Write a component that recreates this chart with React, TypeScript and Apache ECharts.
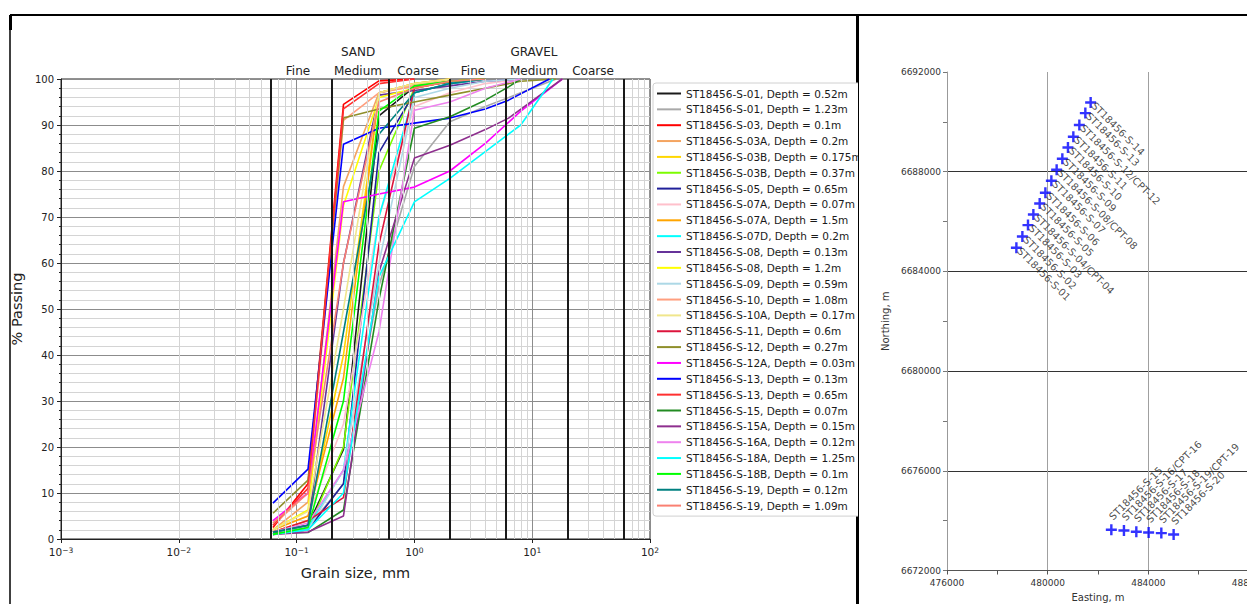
import React, { useEffect, useRef } from "react";
import * as echarts from "echarts";

const FONT = "DejaVu Sans";

// ---------- Particle size distribution data ----------
const sampleNames = [
  "ST18456-S-01, Depth = 0.52m",
  "ST18456-S-01, Depth = 1.23m",
  "ST18456-S-03, Depth = 0.1m",
  "ST18456-S-03A, Depth = 0.2m",
  "ST18456-S-03B, Depth = 0.175m",
  "ST18456-S-03B, Depth = 0.37m",
  "ST18456-S-05, Depth = 0.65m",
  "ST18456-S-07A, Depth = 0.07m",
  "ST18456-S-07A, Depth = 1.5m",
  "ST18456-S-07D, Depth = 0.2m",
  "ST18456-S-08, Depth = 0.13m",
  "ST18456-S-08, Depth = 1.2m",
  "ST18456-S-09, Depth = 0.59m",
  "ST18456-S-10, Depth = 1.08m",
  "ST18456-S-10A, Depth = 0.17m",
  "ST18456-S-11, Depth = 0.6m",
  "ST18456-S-12, Depth = 0.27m",
  "ST18456-S-12A, Depth = 0.03m",
  "ST18456-S-13, Depth = 0.13m",
  "ST18456-S-13, Depth = 0.65m",
  "ST18456-S-15, Depth = 0.07m",
  "ST18456-S-15A, Depth = 0.15m",
  "ST18456-S-16A, Depth = 0.12m",
  "ST18456-S-18A, Depth = 1.25m",
  "ST18456-S-18B, Depth = 0.1m",
  "ST18456-S-19, Depth = 0.12m",
  "ST18456-S-19, Depth = 1.09m",
];

const sampleColors = [
  "#1a1a1a", "#a9a9a9", "#ff0000", "#f4a460", "#ffd700", "#7cfc00", "#20209a",
  "#ffc0cb", "#ffa500", "#00ffff", "#663399", "#ffff00", "#add8e6", "#ff9f7f",
  "#f0e68c", "#dc143c", "#8f8f2a", "#ff00ff", "#0000ff", "#ff3030", "#228b22",
  "#8e2f8e", "#ee82ee", "#00ffff", "#00ff00", "#008080", "#fa8072",
];

// sieve sizes (mm) for each sample
const sampleSizes: number[][] = [
  [0.063, 0.125, 0.25, 0.5, 1, 2, 4],
  [0.063, 0.125, 0.25, 0.5, 1, 2, 4, 8, 16],
  [0.063, 0.125, 0.25, 0.5, 1],
  [0.063, 0.125, 0.25, 0.5, 1, 2, 4],
  [0.063, 0.125, 0.25, 0.5, 1, 2],
  [0.063, 0.125, 0.25, 0.5, 1, 2, 4],
  [0.063, 0.125, 0.25, 0.5, 1, 2, 4],
  [0.063, 0.125, 0.25, 0.5, 1, 2, 4, 8],
  [0.063, 0.125, 0.25, 0.5, 1, 2],
  [0.063, 0.125, 0.25, 0.5, 1, 2, 4],
  [0.063, 0.125, 0.25, 0.5, 1, 2, 4, 8],
  [0.063, 0.125, 0.25, 0.5, 1, 2, 4],
  [0.063, 0.125, 0.25, 0.5, 1, 2, 4, 8],
  [0.063, 0.125, 0.25, 0.5, 1, 2, 4],
  [0.063, 0.125, 0.25, 0.5, 1, 2],
  [0.063, 0.125, 0.25, 0.5, 1, 2, 4],
  [0.063, 0.125, 0.25, 0.5, 1, 2, 4, 8, 16],
  [0.063, 0.125, 0.25, 0.5, 1, 2, 4, 8, 18],
  [0.063, 0.125, 0.25, 0.5, 1, 2, 4, 6.3, 14],
  [0.063, 0.125, 0.25, 0.5, 1],
  [0.063, 0.125, 0.25, 0.5, 1, 2, 4, 6.3, 8],
  [0.063, 0.125, 0.25, 0.5, 1, 2, 4, 6.3, 18],
  [0.063, 0.125, 0.25, 0.5, 1, 2, 4, 8],
  [0.063, 0.125, 0.25, 0.5, 1, 2, 8, 15],
  [0.063, 0.125, 0.25, 0.5, 1, 2, 4],
  [0.063, 0.125, 0.25, 0.5, 1, 2, 4],
  [0.063, 0.125, 0.25, 0.5, 1, 2, 4],
];

// % passing for each sample
const samplePassing: number[][] = [
  [1.5, 3, 19.5, 92, 98.3, 99.3, 100],
  [1.5, 2.5, 12, 55, 81, 90.7, 94, 97, 100],
  [2.5, 12, 94.5, 99.6, 100],
  [2, 8, 76.6, 97, 98.5, 99.5, 100],
  [1.5, 4, 40, 97, 99, 100],
  [1, 2, 20, 80, 98, 99.5, 100],
  [1, 2, 12, 84, 97, 99, 100],
  [2, 5, 25, 70, 94, 97, 99, 100],
  [2, 5, 35, 97, 99, 100],
  [1, 2.5, 15, 70, 97, 99, 100],
  [1.5, 3, 60, 96.5, 97.5, 98.5, 99.5, 100],
  [2, 6.3, 72.5, 96, 98, 99.5, 100],
  [1, 2, 15, 60, 96, 98, 99.5, 100],
  [3, 10, 91, 97, 98.5, 99.5, 100],
  [2, 6, 50, 97, 99, 100],
  [1.5, 4, 9, 64, 98, 99.5, 100],
  [5.6, 12.8, 91.5, 93.5, 95, 96.5, 98, 99.5, 100],
  [4, 10, 73.3, 75, 76.5, 80, 86, 93, 100],
  [7.8, 15.2, 85.8, 89.3, 90.4, 91.5, 93.5, 95.4, 100],
  [3, 11, 93.5, 99, 100],
  [1.3, 1.4, 6.3, 52, 89.3, 91.8, 95.4, 98.3, 100],
  [1, 1.5, 5, 58, 82.8, 85.6, 89, 91.5, 100],
  [1.5, 3.5, 15, 45, 93.2, 95, 98, 100],
  [1, 2, 10, 57, 73.3, 78.4, 90, 100],
  [1, 2.5, 30, 93, 98.5, 99.5, 100],
  [1.5, 3, 45, 88, 97, 99, 100],
  [3.5, 10, 60, 95, 98, 99.5, 100],
];

// soil class boundaries (mm) and headings
const classBoundaries = [0.063, 0.2, 0.6, 2, 6, 20, 60];
const minorGridSizes = [
  0.002, 0.003, 0.004, 0.005, 0.006, 0.007, 0.008, 0.009,
  0.02, 0.03, 0.04, 0.05, 0.06, 0.07, 0.08, 0.09,
  0.2, 0.3, 0.4, 0.5, 0.6, 0.7, 0.8, 0.9,
  2, 3, 4, 5, 6, 7, 8, 9,
  20, 30, 40, 50, 60, 70, 80, 90,
];
const groupHeadings = ["SAND", "GRAVEL"];
const subHeadings = ["Fine", "Medium", "Coarse", "Fine", "Medium", "Coarse"];

// ---------- Site location data ----------
const northNames = [
  "ST18456-S-01", "ST18456-S-02", "ST18456-S-03", "ST18456-S-04/CPT-04",
  "ST18456-S-05", "ST18456-S-06", "ST18456-S-07", "ST18456-S-08/CPT-08",
  "ST18456-S-09", "ST18456-S-10", "ST18456-S-11", "ST18456-S-12/CPT-12",
  "ST18456-S-13", "ST18456-S-14",
];
const northEasting = [
  478757, 478995, 479218, 479432, 479683, 479909, 480147, 480357, 480583,
  480806, 481020, 481259, 481497, 481708,
];
const northNorthing = [
  6684947, 6685400, 6685858, 6686283, 6686724, 6687153, 6687635, 6688076,
  6688517, 6688971, 6689400, 6689871, 6690351, 6690776,
];
const southNames = [
  "ST18456-S-15", "ST18456-S-16/CPT-16", "ST18456-S-17", "ST18456-S-18",
  "ST18456-S-19/CPT-19", "ST18456-S-20",
];
const southEasting = [482530, 483031, 483523, 484012, 484516, 485005];
const southNorthing = [6673633, 6673605, 6673553, 6673525, 6673500, 6673444];

const PLUS = "path://M3.9,0H6.1V3.9H10V6.1H6.1V10H3.9V6.1H0V3.9H3.9Z";

function buildLeftOption(): any {
  const series: any[] = [
    {
      type: "line",
      name: "__minor",
      data: [],
      z: 1,
      silent: true,
      markLine: {
        silent: true,
        symbol: ["none", "none"],
        label: { show: false },
        emphasis: { disabled: true },
        lineStyle: { color: "#d4d4d4", width: 1, type: "solid" },
        data: minorGridSizes.map((v) => ({ xAxis: v })),
      },
    },
    {
      type: "line",
      name: "__bounds",
      data: [],
      z: 1,
      silent: true,
      markLine: {
        silent: true,
        symbol: ["none", "none"],
        label: { show: false },
        emphasis: { disabled: true },
        lineStyle: { color: "#1a1a1a", width: 2, type: "solid" },
        data: classBoundaries.map((v) => ({ xAxis: v })),
      },
    },
  ];
  sampleNames.forEach((name, i) => {
    series.push({
      type: "line",
      name,
      symbol: "none",
      showSymbol: false,
      z: 3,
      color: sampleColors[i],
      lineStyle: { color: sampleColors[i], width: 1.6 },
      data: sampleSizes[i].map((s, j) => [s, samplePassing[i][j]]),
    });
  });

  const headingX = [358, 534];
  const subX = [298, 358, 418, 473, 534, 593];
  const graphic: any[] = [
    { type: "line", shape: { x1: 10, y1: 15, x2: 858, y2: 15 }, style: { stroke: "#000", lineWidth: 2 } },
    { type: "line", shape: { x1: 10, y1: 15, x2: 10, y2: 604 }, style: { stroke: "#000", lineWidth: 1.5 } },
    { type: "rect", shape: { x: 9, y: 15, width: 3, height: 15 }, style: { fill: "#000" } },
    { type: "line", shape: { x1: 857, y1: 15, x2: 857, y2: 604 }, style: { stroke: "#000", lineWidth: 2 } },
  ];
  groupHeadings.forEach((t, i) => {
    graphic.push({
      type: "text",
      x: headingX[i],
      y: 52,
      style: { text: t, fontSize: 12, fontFamily: FONT, fill: "#222", align: "center", verticalAlign: "middle" },
    });
  });
  subHeadings.forEach((t, i) => {
    graphic.push({
      type: "text",
      x: subX[i],
      y: 71,
      style: { text: t, fontSize: 12, fontFamily: FONT, fill: "#222", align: "center", verticalAlign: "middle" },
    });
  });

  return {
    animation: false,
    textStyle: { fontFamily: FONT },
    grid: {
      left: 61, top: 79, width: 589, height: 460, show: true, borderColor: "#222", borderWidth: 1,
      backgroundColor: "#fff", containLabel: false, outerBoundsMode: "none",
    },
    xAxis: {
      type: "log",
      logBase: 10,
      min: 0.001,
      max: 100,
      axisLine: { show: true, lineStyle: { color: "#222" } },
      axisTick: { show: true, length: 4, lineStyle: { color: "#222" } },
      splitLine: { show: true, lineStyle: { color: "#8c8c8c", width: 1 } },
      axisLabel: {
        color: "#222",
        margin: 7,
        formatter: (v: number) => {
          const e = Math.round(Math.log10(v));
          const s = e < 0 ? "\u2212" + Math.abs(e) : String(e);
          return "{b|10}{s|" + s + "}";
        },
        rich: {
          b: { fontSize: 10.5, color: "#222", fontFamily: FONT },
          s: { fontSize: 7.5, color: "#222", fontFamily: FONT, verticalAlign: "top" },
        },
      },
      name: "Grain size, mm",
      nameLocation: "middle",
      nameGap: 26,
      nameTextStyle: { fontSize: 14.5, color: "#222", fontFamily: FONT },
    },
    yAxis: {
      type: "value",
      min: 0,
      max: 100,
      interval: 10,
      axisLine: { show: true, lineStyle: { color: "#222" } },
      axisTick: { show: true, length: 4, lineStyle: { color: "#222" } },
      minorTick: { show: true, splitNumber: 5, length: 2, lineStyle: { color: "#222" } },
      splitLine: { show: true, lineStyle: { color: "#8c8c8c", width: 1 } },
      minorSplitLine: { show: true, lineStyle: { color: "#d4d4d4", width: 1 } },
      axisLabel: { color: "#222", fontSize: 10, margin: 7 },
      name: "% Passing",
      nameLocation: "middle",
      nameGap: 28,
      nameRotate: 90,
      nameTextStyle: { fontSize: 14.5, color: "#222", fontFamily: FONT },
    },
    legend: {
      orient: "vertical",
      left: 653,
      top: 83,
      padding: [4, 8, 4, 4],
      itemGap: 2.85,
      itemWidth: 24,
      itemHeight: 2,
      icon: "rect",
      selectedMode: false,
      backgroundColor: "#fff",
      borderColor: "#d0d0d0",
      borderWidth: 1,
      borderRadius: 3,
      textStyle: { fontSize: 10.5, color: "#1a1a1a", lineHeight: 13, fontFamily: FONT },
      data: sampleNames,
    },
    graphic,
    series,
  };
}

function buildRightOption(): any {
  const labelBase = { show: true, fontSize: 10, color: "#222", fontFamily: FONT, align: "left", verticalAlign: "middle" };
  return {
    animation: false,
    textStyle: { fontFamily: FONT },
    grid: { left: 89, top: 72, width: 302, height: 498.5, containLabel: false, outerBoundsMode: "none" },
    xAxis: {
      type: "value",
      min: 476000,
      max: 488000,
      interval: 4000,
      axisLine: { show: true, lineStyle: { color: "#555" } },
      axisTick: { show: true, length: 4, lineStyle: { color: "#555" } },
      minorTick: { show: true, splitNumber: 2, length: 4, lineStyle: { color: "#555" } },
      splitLine: { show: true, lineStyle: { color: "#a0a0a0", width: 1 } },
      axisLabel: { fontSize: 9, color: "#333", margin: 8, formatter: (v: number) => String(v) },
      name: "Easting, m",
      nameLocation: "middle",
      nameGap: 22,
      nameTextStyle: { fontSize: 10, color: "#333" },
    },
    yAxis: {
      type: "value",
      min: 6672000,
      max: 6692000,
      interval: 4000,
      axisLine: { show: true, lineStyle: { color: "#999" } },
      axisTick: { show: true, length: 4, lineStyle: { color: "#777" } },
      minorTick: { show: true, splitNumber: 2, length: 4, lineStyle: { color: "#777" } },
      splitLine: { show: true, showMaxLine: false, lineStyle: { color: "#333", width: 1 } },
      axisLabel: { fontSize: 9, color: "#333", margin: 6, formatter: (v: number) => String(v) },
      name: "Northing, m",
      nameLocation: "middle",
      nameGap: 52,
      nameRotate: 90,
      nameTextStyle: { fontSize: 10, color: "#333" },
    },
    graphic: [
      { type: "line", shape: { x1: 0, y1: 15, x2: 389, y2: 15 }, style: { stroke: "#000", lineWidth: 2 } },
      { type: "line", shape: { x1: 0.5, y1: 15, x2: 0.5, y2: 604 }, style: { stroke: "#000", lineWidth: 1 } },
    ],
    series: [
      {
        type: "scatter",
        name: "north",
        symbol: PLUS,
        symbolSize: 11,
        itemStyle: { color: "#0000ff" },
        label: { ...labelBase, position: [8, 7], rotate: -45, formatter: (p: any) => p.data[2] },
        data: northNames.map((n, i) => [northEasting[i], northNorthing[i], n]),
      },
      {
        type: "scatter",
        name: "south",
        symbol: PLUS,
        symbolSize: 11,
        itemStyle: { color: "#0000ff" },
        label: { ...labelBase, position: [5, -6], rotate: 45, formatter: (p: any) => p.data[2] },
        data: southNames.map((n, i) => [southEasting[i], southNorthing[i], n]),
      },
    ],
  };
}

export default function App() {
  const leftRef = useRef<HTMLDivElement>(null);
  const rightRef = useRef<HTMLDivElement>(null);

  useEffect(() => {
    document.body.style.margin = "0";
    const left = echarts.init(leftRef.current!, undefined, { renderer: "svg" });
    left.setOption(buildLeftOption());
    const right = echarts.init(rightRef.current!, undefined, { renderer: "svg" });
    right.setOption(buildRightOption());
    return () => {
      left.dispose();
      right.dispose();
    };
  }, []);

  return (
    <div style={{ position: "absolute", left: 0, top: 0, width: 1247, height: 604, background: "#fff", overflow: "hidden" }}>
      <div ref={leftRef} style={{ position: "absolute", left: 0, top: 0, width: 858, height: 604, overflow: "hidden" }} />
      <div ref={rightRef} style={{ position: "absolute", left: 858, top: 0, width: 389, height: 604, overflow: "hidden" }} />
    </div>
  );
}
